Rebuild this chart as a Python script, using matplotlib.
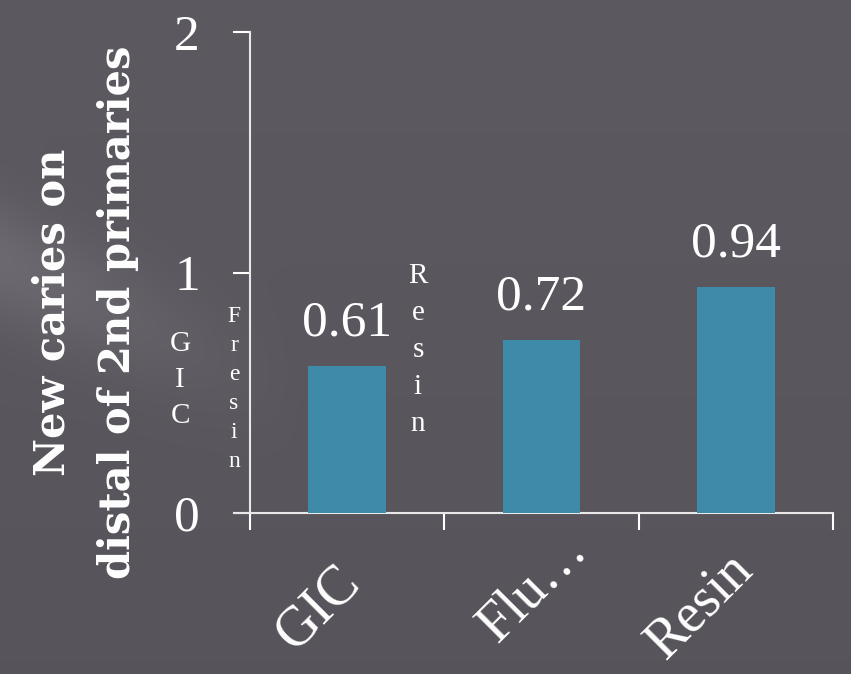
import numpy as np
import matplotlib
matplotlib.use("Agg")
import matplotlib.pyplot as plt
import matplotlib.transforms as mtransforms

# data
categories = ["GIC", "Flu…", "Resin"]
values = [0.61, 0.72, 0.94]
value_labels = ["0.61", "0.72", "0.94"]
y_ticks = [0, 1, 2]
y_title = "New caries on\ndistal of 2nd primaries"
stray_words = ["GIC", "Fresin", "Resin"]

bar_color = "#3E8BA9"
txt = "white"
serif = ["Liberation Serif", "DejaVu Serif"]

fig = plt.figure(figsize=(8.51, 6.74), dpi=100)

# background: dark grey with a faint light streak on the upper left
bg = fig.add_axes([0, 0, 1, 1], zorder=-10)
h, w = 674, 851
yy, xx = np.mgrid[0:h, 0:w]
base = np.array([92, 90, 96]) / 255.0
d = (yy - 0.45 * xx - 260) / 60.0
streak = np.exp(-d ** 2) * np.clip(1 - xx / 300.0, 0, 1) * 0.07
vign = -0.02 * (yy / h)
img = np.clip(base[None, None, :] + (streak + vign)[:, :, None], 0, 1)
bg.imshow(img, aspect="auto", extent=[0, 1, 0, 1], origin="upper")
bg.axis("off")

ax = fig.add_axes([250 / 851, 1 - 513 / 674, (833 - 250) / 851, (513 - 32) / 674])
ax.patch.set_alpha(0)

x = np.arange(len(categories))
bars = ax.bar(x, values, width=0.4, color=bar_color, zorder=3)

for b, lab in zip(bars, value_labels):
    ax.annotate(lab, (b.get_x() + b.get_width() / 2, b.get_height()),
                xytext=(0, 14), textcoords="offset points", ha="center",
                va="bottom", color=txt, fontsize=37, family=serif)

ax.set_xlim(-0.5, 2.5)
ax.set_ylim(0, 2)
ax.set_yticks(y_ticks)
ax.set_yticklabels([str(t) for t in y_ticks], fontsize=37, family=serif, color=txt)
ax.set_xticks([-0.5, 0.5, 1.5, 2.5])
ax.set_xticklabels([])
ax.tick_params(axis="x", direction="out", length=12, width=1.5, color=txt)
ax.tick_params(axis="y", direction="out", length=12, width=1.5, color=txt, pad=24)

# category labels, rotated, hanging below each category centre
# (the truncated middle one sits a bit higher in the original slide)
nudge = {"Flu…": (24, 23), "Resin": (3, 9)}
for xi, cat in zip(x, categories):
    dx, dy = nudge.get(cat, (0, 0))
    tr = mtransforms.blended_transform_factory(ax.transData, ax.transAxes) + \
        mtransforms.ScaledTranslation((dx - 10) / 72, (dy - 31) / 72, fig.dpi_scale_trans)
    ax.text(xi, 0, cat, transform=tr, rotation=45, ha="right", va="top",
            rotation_mode="anchor", fontsize=40, family=serif, color=txt)

for s in ["top", "right"]:
    ax.spines[s].set_visible(False)
for s in ["left", "bottom"]:
    ax.spines[s].set_color("#e8e8e8")
    ax.spines[s].set_linewidth(1.5)
ax.spines["bottom"].set_bounds(-0.5 - 16 / 194.5, 2.5)

fig.text(85 / 851, 1 - 312 / 674, y_title, rotation=90, ha="center", va="center",
         fontsize=30, fontweight="bold", family=["DejaVu Serif"], color=txt,
         linespacing=1.7)

# stray stacked letters
fig.text(180 / 851, 1 - 380 / 674, "\n".join(stray_words[0]), ha="center", va="center",
         fontsize=21, family=serif, color=txt, linespacing=1.5)
fig.text(234 / 851, 1 - 389 / 674, "\n".join(stray_words[1]), ha="center", va="center",
         fontsize=17, family=serif, color=txt, linespacing=1.5)
fig.text(418 / 851, 1 - 350 / 674, "\n".join(stray_words[2]), ha="center", va="center",
         fontsize=21, family=serif, color=txt, linespacing=1.55)

fig.savefig("out.png", dpi=100)
